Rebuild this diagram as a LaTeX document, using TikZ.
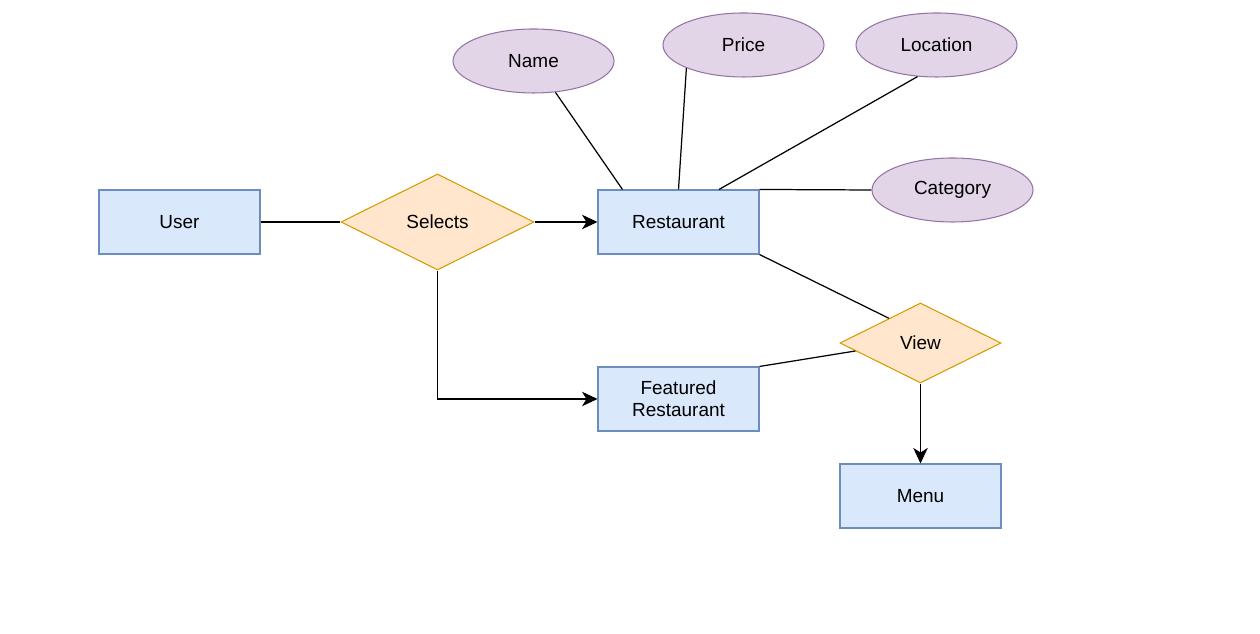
\documentclass[tikz,border=0pt]{standalone}
\usepackage{fontspec}
\setmainfont{Liberation Sans}
\usetikzlibrary{shapes.geometric,arrows.meta}
\definecolor{entfill}{HTML}{DAE8FC}
\definecolor{entline}{HTML}{6C8EBF}
\definecolor{relfill}{HTML}{FFE6CC}
\definecolor{relline}{HTML}{D79B00}
\definecolor{attfill}{HTML}{E1D5E7}
\definecolor{attline}{HTML}{9673A6}
\tikzset{
	entity/.style={rectangle, draw=entline, fill=entfill, line width=0.6pt, minimum width=3.22cm, minimum height=1.28cm, inner sep=0pt, align=center},
	relation/.style={diamond, draw=relline, fill=relfill, line width=0.6pt, inner sep=0pt},
	attrib/.style={ellipse, draw=attline, fill=attfill, line width=0.6pt, minimum width=3.22cm, minimum height=1.28cm, inner sep=0pt},
	link/.style={line width=0.7pt, black}
}
\begin{document}
	\begin{tikzpicture}[>={Stealth[length=3.1mm, width=2.9mm, inset=0.9mm]}, font=\fontsize{10.8}{12.6}\selectfont]
		\useasboundingbox (0,0) rectangle (25.2,12.68);
		\node[entity] (user) at (3.59,8.24) {User};
		\node[relation, minimum width=3.86cm, minimum height=1.92cm] (selects) at (8.75,8.24) {Selects};
		\node[entity] (rest) at (13.57,8.24) {Restaurant};
		\node[entity] (feat) at (13.57,4.70) {Featured\\Restaurant};
		\node[relation, minimum width=3.22cm, minimum height=1.6cm] (view) at (18.41,5.82) {View};
		\node[entity] (menu) at (18.41,2.76) {Menu};
		\node[attrib] (name) at (10.67,11.46) {Name};
		\node[attrib] (price) at (14.87,11.78) {Price};
		\node[attrib] (loc) at (18.73,11.78) {Location};
		\node[attrib] (cat) at (19.05,8.88) {Category};
		\draw[link] (user) -- (selects);
		\draw[link, ->] (selects) -- (rest);
		\draw[link, ->] (selects.south) |- (feat);
		\draw[link] (name.-55) -- ([xshift=0.5cm]rest.north west);
		\draw[link] (price.-158) -- (rest.north);
		\draw[link] (loc.-121) -- ([xshift=0.81cm]rest.north);
		\draw[link] (cat.west) -- (rest.north east);
		\draw[link] (rest.south east) -- (view.142.7);
		\draw[link] (feat.north east) -- (view.187.5);
		\draw[link, ->] (view) -- (menu);
	\end{tikzpicture}
\end{document}
